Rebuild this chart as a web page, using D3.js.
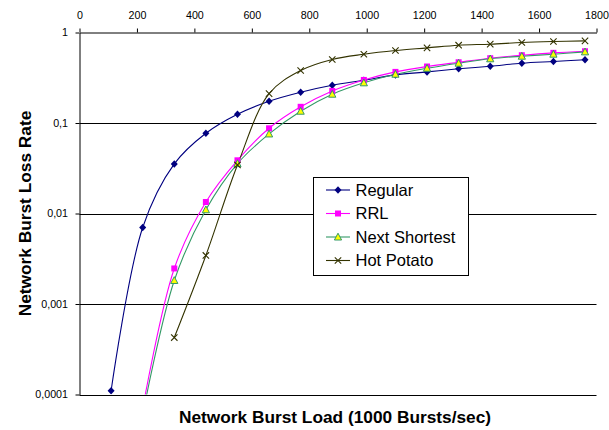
<!DOCTYPE html>
<html>
<head>
<meta charset="utf-8">
<script src="https://cdn.jsdelivr.net/npm/d3@7"></script>
<style>
  html, body { margin: 0; padding: 0; background: #fff; }
  svg { display: block; font-family: Arial, "Liberation Sans", sans-serif; }
</style>
</head>
<body>
<svg id="chart" width="609" height="430"></svg>
<script>
// Offered load (1000 bursts/sec)
const loads = [110, 220, 330, 440, 550, 660, 770, 880, 990, 1100, 1210, 1320, 1430, 1540, 1650, 1760];

// Burst loss rate per routing scheme (null = not simulated)
const regular      = [0.00011, 0.007, 0.0353, 0.077, 0.125, 0.174, 0.219, 0.261, 0.297, 0.340, 0.367, 0.397, 0.424, 0.458, 0.478, 0.499];
const rrl          = [null, 0.00007, 0.00247, 0.0134, 0.0387, 0.0874, 0.151, 0.226, 0.299, 0.367, 0.421, 0.469, 0.520, 0.561, 0.596, 0.621];
const nextShortest = [null, 0.00006, 0.00182, 0.0110, 0.0356, 0.0757, 0.135, 0.208, 0.278, 0.346, 0.403, 0.458, 0.512, 0.547, 0.576, 0.611];
const hotPotato    = [null, null, 0.000426, 0.00344, 0.0344, 0.211, 0.380, 0.503, 0.575, 0.632, 0.676, 0.724, 0.743, 0.775, 0.795, 0.809];

const seriesNames = ["Regular", "RRL", "Next Shortest", "Hot Potato"];
const xTicks = [0, 200, 400, 600, 800, 1000, 1200, 1400, 1600, 1800];
const yTicks = [1, 0.1, 0.01, 0.001, 0.0001];
const yTickLabels = ["1", "0,1", "0,01", "0,001", "0,0001"];

const series = [
  { name: seriesNames[0], values: regular,      color: "#000080", marker: "diamond" },
  { name: seriesNames[1], values: rrl,          color: "#FF00FF", marker: "square" },
  { name: seriesNames[2], values: nextShortest, color: "#339966", marker: "triangle" },
  { name: seriesNames[3], values: hotPotato,    color: "#333300", marker: "cross" }
];

const svg = d3.select("#chart");
const plotLeft = 79.5, plotRight = 596.5, plotTop = 32.5, plotBottom = 394.5;

const x = d3.scaleLinear().domain([0, 1800]).range([plotLeft, plotRight]);
const y = d3.scaleLog().domain([0.0001, 1]).range([plotBottom, plotTop]);

// clip for the plot area
svg.append("defs").append("clipPath").attr("id", "plot")
  .append("rect").attr("x", plotLeft).attr("y", plotTop)
  .attr("width", plotRight - plotLeft).attr("height", plotBottom - plotTop);

// horizontal grid lines at each decade
svg.append("g").selectAll("line").data(yTicks.slice(1)).join("line")
  .attr("x1", plotLeft).attr("x2", plotRight)
  .attr("y1", d => Math.round(y(d)) + 0.5).attr("y2", d => Math.round(y(d)) + 0.5)
  .attr("stroke", "#000").attr("stroke-width", 1);

// top x axis
const xAxis = svg.append("g").attr("transform", `translate(0,${plotTop})`)
  .call(d3.axisTop(x).tickValues(xTicks).tickFormat(d3.format("d"))
    .tickSize(4).tickSizeOuter(0).tickPadding(10));
xAxis.attr("font-family", null);
xAxis.selectAll("text").attr("font-size", "10.7px").attr("fill", "#000");
xAxis.selectAll("line,path").attr("stroke", "#000");

// left y axis
const yAxis = svg.append("g").attr("transform", `translate(${plotLeft},0)`)
  .call(d3.axisLeft(y).tickValues(yTicks).tickFormat((d, i) => yTickLabels[i])
    .tickSize(4).tickSizeOuter(0).tickPadding(7.5));
yAxis.attr("font-family", null);
yAxis.selectAll("text").attr("font-size", "10.7px").attr("fill", "#000");
yAxis.selectAll("line,path").attr("stroke", "#000");

// series lines
const line = d3.line()
  .defined(d => d.v !== null)
  .x(d => x(d.x)).y(d => y(d.v))
  .curve(d3.curveCatmullRom.alpha(0.5));

const plot = svg.append("g").attr("clip-path", "url(#plot)");
series.forEach(s => {
  const pts = loads.map((lx, i) => ({ x: lx, v: s.values[i] }));
  plot.append("path").datum(pts)
    .attr("d", line)
    .attr("fill", "none").attr("stroke", s.color).attr("stroke-width", 1.1);
});

// marker shapes
function drawMarker(g, type, color) {
  if (type === "diamond") {
    g.append("path").attr("d", "M0,-3.8L3.5,0L0,3.8L-3.5,0Z").attr("fill", color);
  } else if (type === "square") {
    g.append("rect").attr("x", -3).attr("y", -3).attr("width", 6).attr("height", 6).attr("fill", color);
  } else if (type === "triangle") {
    g.append("path").attr("d", "M0,-3.8L3.6,3L-3.6,3Z")
      .attr("fill", "#FFFF00").attr("stroke", color).attr("stroke-width", 1);
  } else if (type === "cross") {
    g.append("path").attr("d", "M-3.2,-3.2L3.2,3.2M-3.2,3.2L3.2,-3.2")
      .attr("stroke", color).attr("stroke-width", 1.1).attr("fill", "none");
  }
}

series.forEach(s => {
  loads.forEach((lx, i) => {
    const v = s.values[i];
    if (v === null || v < 0.0001) return;
    const g = plot.append("g").attr("transform", `translate(${x(lx)},${y(v)})`);
    drawMarker(g, s.marker, s.color);
  });
});

// legend
const lg = svg.append("g");
lg.append("rect").attr("x", 313.5).attr("y", 177.5).attr("width", 155).attr("height", 98)
  .attr("fill", "#fff").attr("stroke", "#000").attr("stroke-width", 1);
series.forEach((s, i) => {
  const ry = 190 + i * 23.5;
  lg.append("line").attr("x1", 326).attr("x2", 350).attr("y1", ry).attr("y2", ry)
    .attr("stroke", s.color).attr("stroke-width", 1.1);
  drawMarker(lg.append("g").attr("transform", `translate(338,${ry})`), s.marker, s.color);
  lg.append("text").attr("x", 355.5).attr("y", ry).attr("dy", "0.36em")
    .attr("font-size", "16.5px").attr("fill", "#000").text(s.name);
});

// axis titles
svg.append("text").attr("x", 335).attr("y", 423).attr("text-anchor", "middle")
  .attr("font-size", "17.3px").attr("font-weight", "bold").attr("fill", "#000")
  .text("Network Burst Load (1000 Bursts/sec)");
svg.append("text").attr("transform", "translate(30.5,213.5) rotate(-90)")
  .attr("text-anchor", "middle")
  .attr("font-size", "17.3px").attr("font-weight", "bold").attr("fill", "#000")
  .text("Network Burst Loss Rate");
</script>
</body>
</html>
